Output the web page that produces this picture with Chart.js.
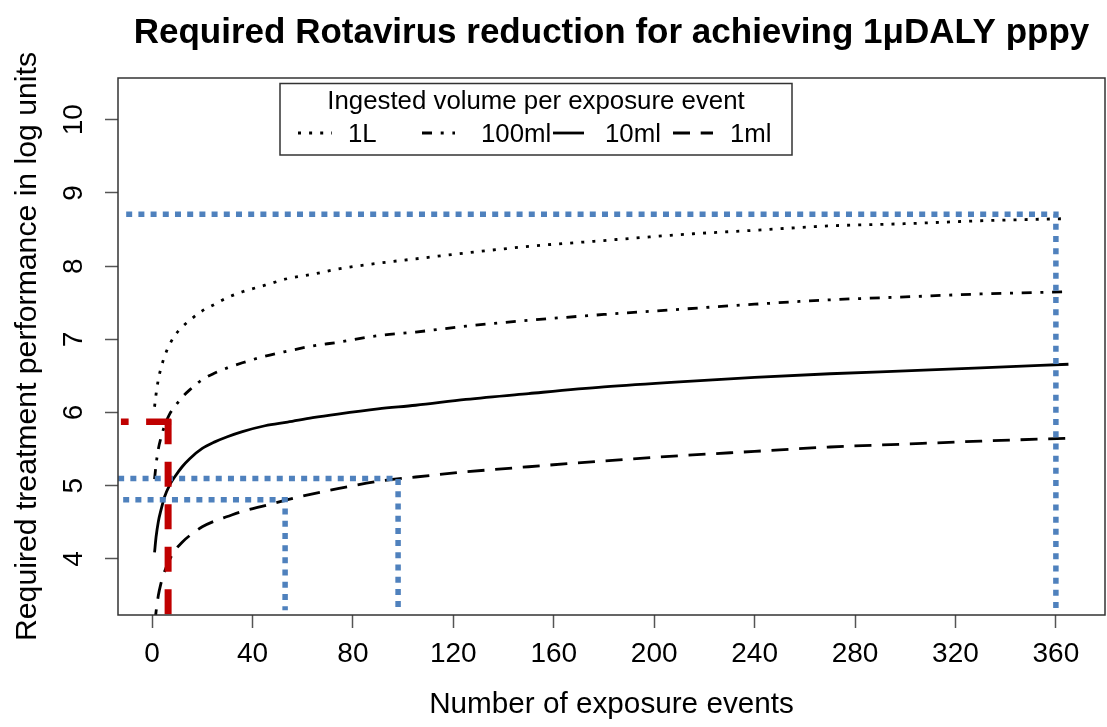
<!DOCTYPE html>
<html>
<head>
<meta charset="utf-8">
<title>Required Rotavirus reduction</title>
<script src="https://cdn.jsdelivr.net/npm/chart.js@4.4.1/dist/chart.umd.min.js"></script>
<style>
  html, body { margin: 0; padding: 0; background: #fff; }
  #chart { display: block; }
</style>
</head>
<body>
<canvas id="chart" width="1107" height="727"></canvas>
<script>
// --- DATA ---
const chartTitle = 'Required Rotavirus reduction for achieving 1μDALY pppy';
const xTitle = 'Number of exposure events';
const yTitle = 'Required treatment performance in log units';
const legendTitle = 'Ingested volume per exposure event';
const seriesLabels = ['1L', '100ml', '10ml', '1ml'];

const exposureEvents = [1, 1.6, 2.5, 3.5, 5, 7, 9, 12, 15, 20, 25, 30, 36, 45, 54, 64, 74, 90, 105, 125, 150, 180, 210, 240, 270, 300, 330, 365];
const vol1L    = [6.08, 6.25, 6.45, 6.60, 6.77, 6.93, 7.05, 7.17, 7.26, 7.39, 7.48, 7.57, 7.65, 7.74, 7.83, 7.89, 7.96, 8.04, 8.10, 8.18, 8.27, 8.35, 8.43, 8.49, 8.55, 8.58, 8.62, 8.65];
const vol100ml = [5.09, 5.29, 5.50, 5.65, 5.82, 5.98, 6.08, 6.21, 6.31, 6.45, 6.54, 6.61, 6.68, 6.77, 6.84, 6.91, 6.96, 7.05, 7.10, 7.18, 7.26, 7.34, 7.41, 7.48, 7.54, 7.58, 7.62, 7.65];
const vol10ml  = [4.09, 4.30, 4.51, 4.66, 4.85, 5.01, 5.12, 5.26, 5.37, 5.51, 5.60, 5.67, 5.74, 5.82, 5.87, 5.93, 5.98, 6.05, 6.10, 6.18, 6.26, 6.35, 6.42, 6.48, 6.53, 6.57, 6.61, 6.66];
const vol1ml   = [3.08, 3.28, 3.50, 3.66, 3.83, 3.99, 4.11, 4.23, 4.32, 4.44, 4.52, 4.58, 4.65, 4.73, 4.81, 4.89, 4.96, 5.06, 5.12, 5.19, 5.26, 5.34, 5.41, 5.47, 5.53, 5.57, 5.61, 5.65];

const xTicks = [0, 40, 80, 120, 160, 200, 240, 280, 320, 360];
const yTicks = [4, 5, 6, 7, 8, 9, 10];

// blue dotted guide lines
const guide360X = [-10.3, 360, 360];
const guide360Y = [8.71, 8.71, 3.27];
const guide98X = [-13.5, 98, 98];
const guide98Y = [5.10, 5.10, 3.30];
const guide53X = [-11.5, 53, 53];
const guide53Y = [4.81, 4.81, 3.30];
// red dashed marker
const redHorizX = [7.6, -12.4];
const redHorizY = [5.875, 5.875];
const redVertX = [6.4, 6.4];
const redVertY = [5.91, 3.235];

// --- STYLE ---
const FONT = "'Liberation Sans', Arial, Helvetica, sans-serif";
const DASH = { dotted: [3, 8.1], dashdot: [10, 8.7, 3, 8.7], solid: [], dashed: [17, 10.7] };
const BLUE = '#4f81bd';
const RED = '#c00000';

const toPoints = (xs, ys) => xs.map((x, i) => ({ x, y: ys[i] }));

const curve = (label, values, dash) => ({
    label,
    data: toPoints(exposureEvents, values),
    borderColor: '#000',
    borderWidth: 2.8,
    borderDash: dash,
    borderCapStyle: 'butt',
    pointRadius: 0,
    cubicInterpolationMode: 'monotone',
    fill: false,
    order: 2
});

const guide = (xs, ys, color, width, dash, order) => ({
    label: '',
    data: toPoints(xs, ys),
    borderColor: color,
    borderWidth: width,
    borderDash: dash,
    borderCapStyle: 'butt',
    borderJoinStyle: 'miter',
    pointRadius: 0,
    tension: 0,
    fill: false,
    order
});

// --- FRAME, TITLE, LEGEND ---
const rFrame = {
    id: 'rFrame',
    afterDatasetsDraw(chart) {
        const { ctx, chartArea: a } = chart;
        ctx.save();
        ctx.strokeStyle = '#333';
        ctx.lineWidth = 1.5;
        ctx.strokeRect(a.left, a.top, a.right - a.left, a.bottom - a.top);
        ctx.restore();
    },
    afterDraw(chart) {
        const { ctx, chartArea: a } = chart;
        ctx.save();
        ctx.fillStyle = '#000';
        ctx.textBaseline = 'alphabetic';

        // title
        ctx.font = `bold 35px ${FONT}`;
        ctx.textAlign = 'center';
        ctx.fillText(chartTitle, (a.left + a.right) / 2, 43);

        // legend box
        ctx.strokeStyle = '#333';
        ctx.lineWidth = 1.5;
        ctx.strokeRect(280, 83.5, 512, 71.5);
        ctx.font = `25.8px ${FONT}`;
        ctx.fillText(legendTitle, 536, 108.5);

        const items = [
            { seg: [298, 332], text: 348, dash: DASH.dotted },
            { seg: [422, 455], text: 481, dash: DASH.dashdot },
            { seg: [553, 584], text: 605, dash: DASH.solid },
            { seg: [673, 713], text: 730, dash: DASH.dashed }
        ];
        ctx.textAlign = 'left';
        items.forEach((it, i) => {
            ctx.beginPath();
            ctx.setLineDash(it.dash);
            ctx.lineCap = 'butt';
            ctx.lineWidth = 2.8;
            ctx.strokeStyle = '#000';
            ctx.moveTo(it.seg[0], 133);
            ctx.lineTo(it.seg[1], 133);
            ctx.stroke();
            ctx.fillText(seriesLabels[i], it.text, 141.5);
        });
        ctx.restore();
    }
};

// --- CHART ---
const gridOpts = { drawOnChartArea: false, drawTicks: true, tickLength: 13, tickColor: '#555', tickWidth: 1.5 };

new Chart(document.getElementById('chart'), {
    type: 'line',
    data: {
        datasets: [
            guide(redHorizX, redHorizY, RED, 6.5, [25, 17.5], 0),
            guide(redVertX, redVertY, RED, 7, [25, 17.5], 0),
            guide(guide360X, guide360Y, BLUE, 5.5, [6, 6.2], 1),
            guide(guide98X, guide98Y, BLUE, 5.5, [6, 6.2], 1),
            guide(guide53X, guide53Y, BLUE, 5.5, [6, 6.2], 1),
            curve(seriesLabels[0], vol1L, DASH.dotted),
            curve(seriesLabels[1], vol100ml, DASH.dashdot),
            curve(seriesLabels[2], vol10ml, DASH.solid),
            curve(seriesLabels[3], vol1ml, DASH.dashed)
        ]
    },
    options: {
        responsive: false,
        animation: false,
        devicePixelRatio: 1,
        layout: { padding: { top: 78, right: 2, left: 0, bottom: 0 } },
        plugins: {
            legend: { display: false },
            tooltip: { enabled: false },
            title: { display: false }
        },
        scales: {
            x: {
                type: 'linear',
                min: -13.56,
                max: 379.56,
                afterBuildTicks: s => { s.ticks = xTicks.map(v => ({ value: v })); },
                afterFit: s => { s.height = 112; },
                grid: gridOpts,
                border: { display: false },
                ticks: { font: { family: FONT, size: 28 }, color: '#000', padding: 9, maxRotation: 0, autoSkip: false },
                title: { display: true, text: xTitle, color: '#000', font: { family: FONT, size: 29.7 }, padding: { top: 0, bottom: 4 } }
            },
            y: {
                type: 'linear',
                min: 3.235,
                max: 10.57,
                afterBuildTicks: s => { s.ticks = yTicks.map(v => ({ value: v })); },
                afterFit: s => { s.width = 118; },
                grid: gridOpts,
                border: { display: false },
                ticks: { font: { family: FONT, size: 28 }, color: '#000', padding: 15, minRotation: 90, maxRotation: 90, crossAlign: 'center', autoSkip: false },
                title: { display: true, text: yTitle, color: '#000', font: { family: FONT, size: 30.2 }, padding: { top: 10, bottom: 0 } }
            }
        }
    },
    plugins: [rFrame]
});
</script>
</body>
</html>
